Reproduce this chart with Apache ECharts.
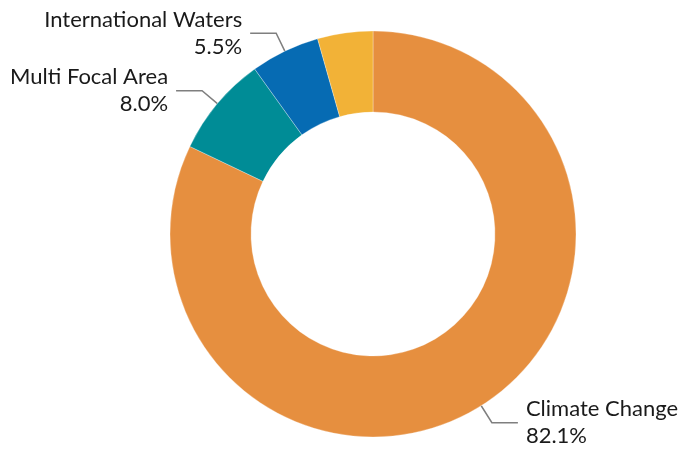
<!DOCTYPE html>
<html>
<head>
<meta charset="utf-8">
<script src="https://cdn.jsdelivr.net/npm/echarts@6/dist/echarts.min.js"></script>
<style>
html,body{margin:0;padding:0;background:#fff;}
#chart{width:682px;height:456px;}
</style>
</head>
<body>
<div id="chart"></div>
<script>
const categories = ['Climate Change', 'Multi Focal Area', 'International Waters', 'Other'];
const values = [82.1, 8.0, 5.5, 4.4];
const colors = ['#E68F3F', '#008C96', '#066BB3', '#F2B237'];
const showLabel = [true, true, true, false];

const chart = echarts.init(document.getElementById('chart'));
chart.setOption({
  backgroundColor: '#ffffff',
  animation: false,
  series: [{
    type: 'pie',
    center: [373, 234],
    radius: [122, 203],
    startAngle: 90,
    clockwise: true,
    avoidLabelOverlap: false,
    itemStyle: { borderColor: '#ffffff', borderWidth: 0.3 },
    label: {
      show: true,
      formatter: p => p.name + '\n' + p.value.toFixed(1) + '%',
      fontFamily: 'Lato, "Open Sans", sans-serif',
      fontSize: 22,
      lineHeight: 27,
      color: '#1a1a1a',
      distanceToLabelLine: 8
    },
    labelLine: {
      show: true,
      length: 20,
      length2: 26,
      smooth: false,
      lineStyle: { color: '#7f7f7f', width: 1.5 }
    },
    data: categories.map((c, i) => ({
      name: c,
      value: values[i],
      itemStyle: { color: colors[i] },
      label: { show: showLabel[i] },
      labelLine: { show: showLabel[i] }
    }))
  }]
});
</script>
</body>
</html>
